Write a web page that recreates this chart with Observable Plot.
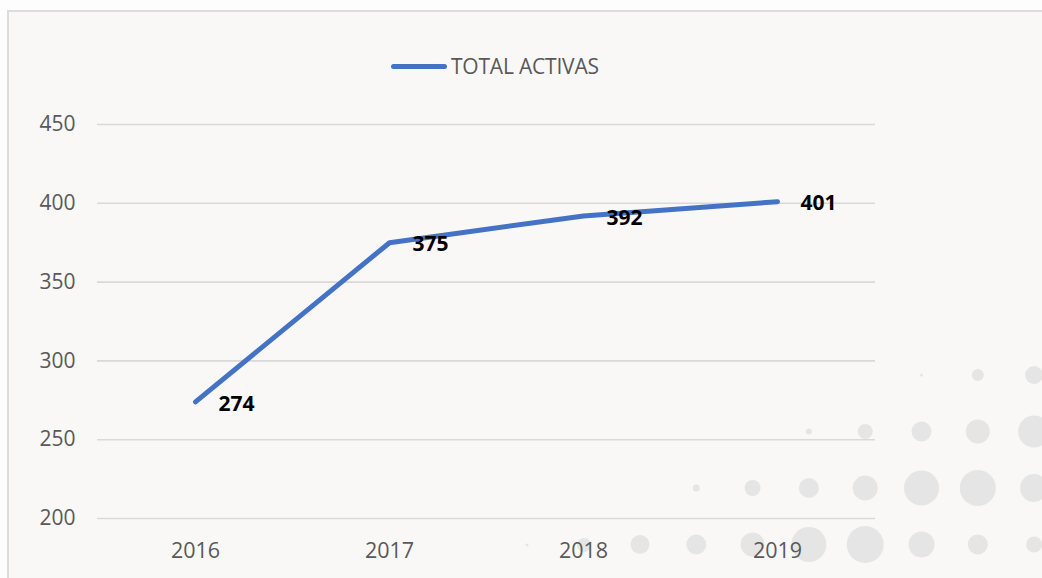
<!DOCTYPE html>
<html>
<head>
<meta charset="utf-8">
<script src="https://cdn.jsdelivr.net/npm/d3@7"></script>
<script src="https://cdn.jsdelivr.net/npm/@observablehq/plot@0.6"></script>
<style>
  html, body { margin: 0; padding: 0; background: #fdfdfd; }
  #wrap { position: relative; width: 1042px; height: 578px; overflow: hidden; font-family: "Open Sans", sans-serif; }
  #frame { position: absolute; left: 7px; top: 10px; width: 1100px; height: 640px; border: 2px solid #dcdcdc; background: #f9f8f7; box-sizing: border-box; }
  #deco { position: absolute; left: 0; top: 0; }
  #chart { position: absolute; left: 0; top: 0; }
  #legend { position: absolute; top: 52px; left: 391px; display: flex; align-items: center; color: #595959; font-size: 21px; letter-spacing: -0.2px; }
  #legend .sw { width: 56px; height: 5px; border-radius: 3px; background: #4472c4; margin-right: 4px; }
</style>
</head>
<body>
<div id="wrap">
  <div id="frame"></div>
  <svg id="deco" width="1042" height="578"></svg>
  <div id="chart"></div>
  <div id="legend"><div class="sw"></div><span>TOTAL ACTIVAS</span></div>
</div>
<script>
const years = ["2016", "2017", "2018", "2019"];
const totalActivas = [274, 375, 392, 401];
const seriesName = "TOTAL ACTIVAS";
const yTicks = [200, 250, 300, 350, 400, 450];

const data = years.map((y, i) => ({year: y, value: totalActivas[i]}));

// decorative background dot pattern (radii per row, left to right)
const decoRows = [
  [0, 0, 0, 0, 0, 1.5, 6, 9],
  [0, 0, 0, 3, 7.5, 10, 12, 16],
  [0.8, 3.5, 8, 10, 12.5, 17.5, 18, 14],
  [9.5, 10, 12, 17.5, 18.5, 13, 10, 8]
];
const decoLead = [1.5, 7];
const deco = d3.select("#deco");
decoRows.forEach((row, r) => {
  row.forEach((rad, c) => {
    if (rad > 0) deco.append("circle").attr("cx", 640 + c * 56.3).attr("cy", 375 + r * 56.5).attr("r", rad).attr("fill", "#e5e5e5");
  });
});
decoLead.forEach((rad, c) => deco.append("circle").attr("cx", 527 + c * 57).attr("cy", 545).attr("r", rad).attr("fill", "#e5e5e5"));

const chart = Plot.plot({
  width: 1042,
  height: 578,
  marginLeft: 97,
  marginRight: 167,
  marginTop: 124,
  marginBottom: 60,
  style: { background: "transparent", fontFamily: "Open Sans, sans-serif", overflow: "visible" },
  x: { type: "point", domain: years, padding: 0.5, label: null },
  y: { domain: [200, 450], ticks: yTicks, label: null },
  marks: [
    Plot.gridY(yTicks, { stroke: "#d9d9d9", strokeOpacity: 1, strokeWidth: 1.6 }),
    Plot.axisY(yTicks, { tickSize: 0, tickPadding: 22, fontSize: 21, fill: "#595959", label: null }),
    Plot.axisX({ tickSize: 0, tickPadding: 24, fontSize: 21.5, fill: "#595959", label: null }),
    Plot.line(data, { x: "year", y: "value", stroke: "#4472c4", strokeWidth: 5, strokeLinecap: "round", strokeLinejoin: "round" }),
    Plot.text(data, { x: "year", y: "value", text: d => String(d.value), dx: 23, dy: 2, textAnchor: "start", fontWeight: "bold", fontSize: 21, fill: "#000000" })
  ]
});
document.getElementById("chart").appendChild(chart);
</script>
</body>
</html>
